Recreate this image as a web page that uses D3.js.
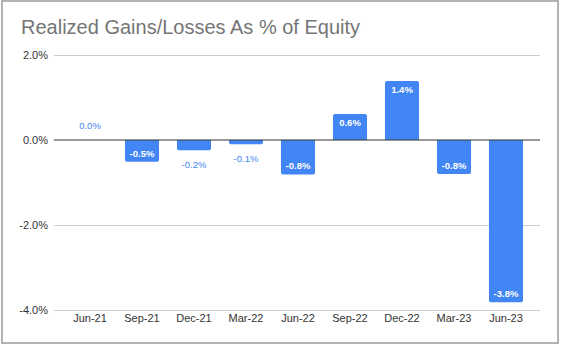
<!DOCTYPE html>
<html>
<head>
<meta charset="utf-8">
<script src="https://cdn.jsdelivr.net/npm/d3@7"></script>
<style>
  html, body { margin: 0; padding: 0; background: #fff; }
  svg { display: block; }
  text { font-family: "Liberation Sans", Arial, sans-serif; }
</style>
</head>
<body>
<svg id="chart" width="561" height="348"></svg>
<script>
const categories = ["Jun-21","Sep-21","Dec-21","Mar-22","Jun-22","Sep-22","Dec-22","Mar-23","Jun-23"];
const values = [0.0, -0.51, -0.24, -0.1, -0.81, 0.61, 1.39, -0.8, -3.82];
const yTicks = [-4, -2, 0, 2];
const title = "Realized Gains/Losses As % of Equity";

const svg = d3.select("#chart");

// frame
svg.append("rect").attr("x", 2).attr("y", 1).attr("width", 556).attr("height", 342)
  .attr("fill", "#fff").attr("stroke", "#9a9a9a").attr("stroke-width", 1.5);

svg.append("text").attr("x", 21).attr("y", 34)
  .attr("font-size", 20).attr("fill", "#757575").text(title);

const x = d3.scaleBand().domain(categories).range([64, 532])
  .paddingInner(0.346).paddingOuter(0.173);
const y = d3.scaleLinear().domain([-4, 2]).range([310, 55]);

const gridL = 54, gridR = 540;
const pct = v => d3.format(".1f")(v).replace("\u2212", "-") + "%";

// gridlines
svg.append("g").selectAll("line").data(yTicks.filter(d => d !== 0)).join("line")
  .attr("x1", gridL).attr("x2", gridR)
  .attr("y1", d => y(d) + 0.5).attr("y2", d => y(d) + 0.5)
  .attr("stroke", "#cccccc").attr("stroke-width", 1);

// y axis labels
const yAxis = d3.axisLeft(y).tickValues(yTicks).tickSize(0).tickPadding(0)
  .tickFormat(pct);
const gy = svg.append("g").attr("transform", `translate(48,0)`).call(yAxis);
gy.select(".domain").remove();
gy.selectAll("text").attr("font-size", 11).attr("fill", "#333")
  .attr("font-family", "Liberation Sans, Arial, sans-serif");

// x axis labels
const xAxis = d3.axisBottom(x).tickSize(0).tickPadding(0);
const gx = svg.append("g").attr("transform", `translate(0,314)`).call(xAxis);
gx.select(".domain").remove();
gx.selectAll("text").attr("font-size", 11).attr("fill", "#333")
  .attr("font-family", "Liberation Sans, Arial, sans-serif");

// bars
const barColor = "#4285f4";
function barPath(d) {
  const x0 = x(d.c), w = x.bandwidth();
  const y0 = y(0), y1 = y(d.v);
  const top = Math.min(y0, y1), h = Math.abs(y1 - y0);
  const r = Math.min(2, h / 2);
  if (h === 0) return "";
  if (d.v >= 0) {
    return `M${x0},${y0} V${top + r} Q${x0},${top} ${x0 + r},${top} H${x0 + w - r} Q${x0 + w},${top} ${x0 + w},${top + r} V${y0} Z`;
  } else {
    const b = top + h;
    return `M${x0},${y0} V${b - r} Q${x0},${b} ${x0 + r},${b} H${x0 + w - r} Q${x0 + w},${b} ${x0 + w},${b - r} V${y0} Z`;
  }
}
const data = categories.map((c, i) => ({ c, v: values[i] }));
svg.append("g").selectAll("path").data(data).join("path")
  .attr("d", barPath).attr("fill", barColor);

// zero line
svg.append("line").attr("x1", gridL).attr("x2", gridR)
  .attr("y1", y(0)).attr("y2", y(0))
  .attr("stroke", "#333").attr("stroke-width", 1);

// data labels
const isInside = d => Math.abs(y(d.v) - y(0)) > 16;
svg.append("g").selectAll("text").data(data).join("text")
  .attr("x", d => x(d.c) + x.bandwidth() / 2)
  .attr("y", d => {
    const inside = isInside(d);
    if (d.v >= 0) {
      return inside ? y(d.v) + 12 : y(d.v) - 11;
    } else {
      return inside ? y(d.v) - 5 : y(d.v) + 18;
    }
  })
  .attr("text-anchor", "middle")
  .attr("font-size", 9.5)
  .attr("font-weight", d => isInside(d) ? "bold" : "normal")
  .attr("fill", d => isInside(d) ? "#ffffff" : barColor)
  .text(d => pct(d.v));
</script>
</body>
</html>
